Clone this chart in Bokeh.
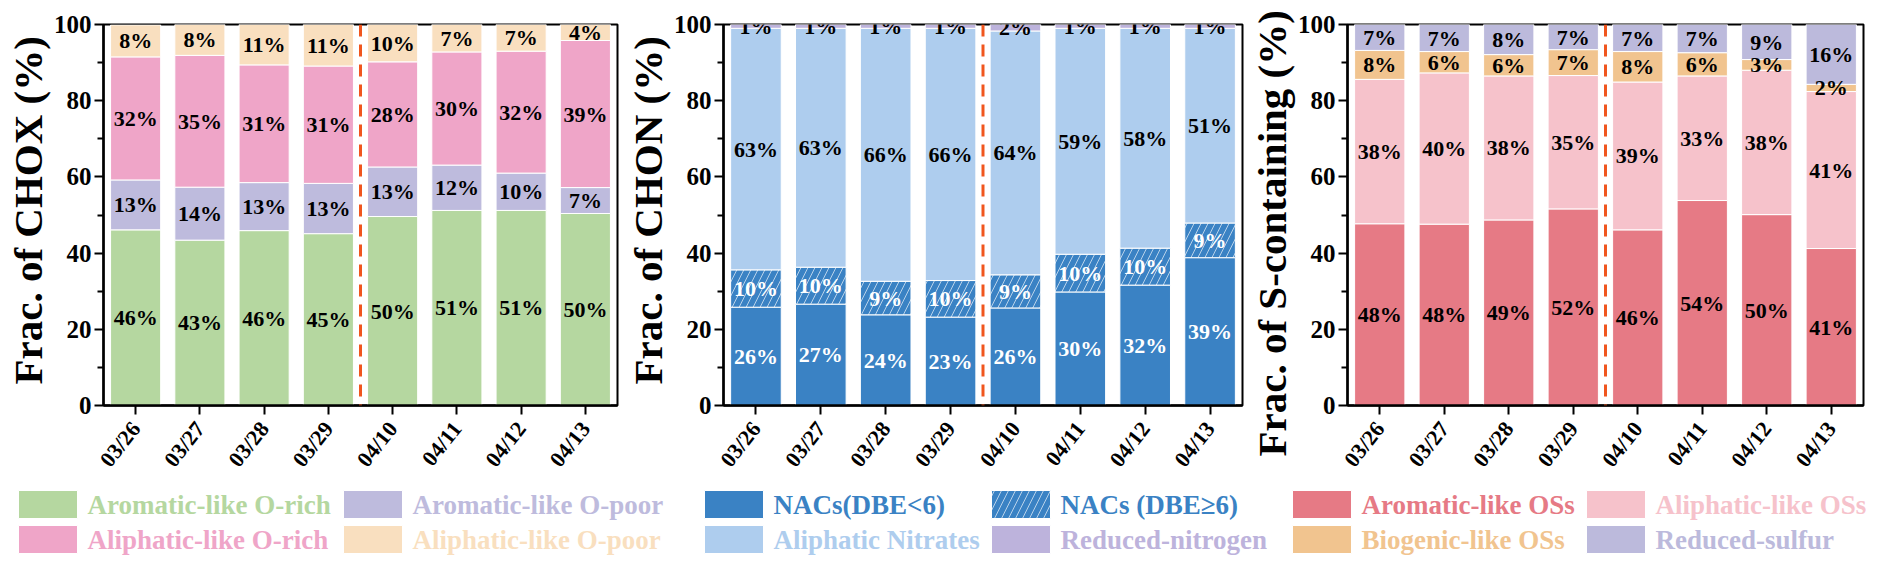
import numpy as np
from bokeh.plotting import figure
from bokeh.layouts import row, column
from bokeh.models import (ColumnDataSource, FactorRange, Range1d, Span, FixedTicker, Title)
from bokeh.core.properties import value
from bokeh.embed import file_html
from bokeh.resources import INLINE

dates = ["03/26", "03/27", "03/28", "03/29", "04/10", "04/11", "04/12", "04/13"]
split_date = "04/10"

# CHOX (%)
chox_names = ["Aromatic-like O-rich", "Aromatic-like O-poor",
              "Aliphatic-like O-rich", "Aliphatic-like O-poor"]
chox_colors = ["#b5d7a0", "#bebbdd", "#efa5c8", "#f9dfbf"]
aro_orich = [46.1, 43.4, 45.9, 45.1, 49.6, 51.2, 51.2, 50.4]
aro_opoor = [13.1, 13.9, 12.6, 13.2, 13.0, 11.9, 9.8, 6.8]
ali_orich = [32.3, 34.6, 30.9, 30.8, 27.6, 29.7, 32.0, 38.6]
ali_opoor = [8.4, 8.1, 10.6, 10.9, 9.8, 7.2, 7.0, 4.2]

# CHON (%)
chon_names = ["NACs(DBE<6)", "NACs (DBE\u22656)", "Aliphatic Nitrates", "Reduced-nitrogen"]
chon_colors = ["#3a82c4", "#3a82c4", "#aecdee", "#bdb3dc"]
nacs_lt6 = [25.8, 26.6, 23.8, 23.2, 25.6, 29.8, 31.6, 38.8]
nacs_ge6 = [9.8, 9.7, 8.8, 9.6, 8.7, 9.9, 9.7, 9.1]
ali_nitrates = [63.4, 62.7, 66.4, 66.2, 64.0, 59.3, 57.7, 51.1]
reduced_n = [1.0, 1.0, 1.0, 1.0, 1.7, 1.0, 1.0, 1.0]

# S-containing (%)
s_names = ["Aromatic-like OSs", "Aliphatic-like OSs", "Biogenic-like OSs", "Reduced-sulfur"]
s_colors = ["#e67a85", "#f6c2cb", "#f1c48f", "#bcbadc"]
aro_os = [47.7, 47.6, 48.7, 51.6, 46.1, 53.8, 50.1, 41.2]
ali_os = [37.9, 39.7, 37.8, 35.0, 38.8, 32.7, 37.9, 41.2]
bio_os = [7.6, 5.6, 5.6, 6.8, 8.0, 6.1, 2.8, 1.9]
red_s = [6.8, 7.1, 7.9, 6.6, 7.1, 7.4, 9.2, 15.7]

chox_hatch = [" ", " ", " ", " "]
chon_hatch = [" ", "/", " ", " "]
s_hatch = [" ", " ", " ", " "]

FONT = "Liberation Serif"
MAIN_H = 482
LEG_H = 86
HATCH = dict(hatch_color="white", hatch_alpha=0.8, hatch_scale=14, hatch_weight=0.8)


def make_panel(ylabel, colors, series, label_colors, hatches, width, left, right,
               title_offset):
    keys = ["s%d" % i for i in range(len(series))]
    data = {"date": dates}
    data.update(dict(zip(keys, series)))
    src = ColumnDataSource(data)

    p = figure(x_range=FactorRange(*dates), y_range=Range1d(0, 100),
               width=width, height=MAIN_H, output_backend="svg",
               toolbar_location=None, min_border_left=left,
               min_border_right=right, min_border_top=24,
               min_border_bottom=MAIN_H - 24 - 381,
               outline_line_color="black", outline_line_width=2)
    p.vbar_stack(keys, x="date", width=0.78, source=src, fill_color=colors,
                 line_color="white", line_width=1, hatch_pattern=hatches, **HATCH)

    arr = np.array(series)
    bottoms = np.vstack([np.zeros(len(dates)), np.cumsum(arr, axis=0)[:-1]])
    mids = bottoms + arr / 2
    lx, ly, lt, lc = [], [], [], []
    for i in range(len(series)):
        for j, d in enumerate(dates):
            lx.append(d)
            ly.append(mids[i, j])
            lt.append("%d%%" % int(round(float(arr[i, j]))))
            lc.append(label_colors[i])
    p.text(x="x", y="y", text="t", text_color="c",
           source=ColumnDataSource(dict(x=lx, y=ly, t=lt, c=lc)),
           text_align="center", text_baseline="middle",
           text_font=value(FONT), text_font_style="bold", text_font_size="22px")

    p.add_layout(Span(location=dates.index(split_date), dimension="height",
                      line_color="#f0561e", line_width=3, line_dash="12 8"))

    # y title sits in the left panel, shifted along the axis like the original
    p.add_layout(Title(text=ylabel, align="left", offset=title_offset, standoff=0,
                       text_font=FONT, text_font_style="bold",
                       text_font_size="41px", text_color="black"), "left")

    p.grid.visible = False
    p.yaxis.ticker = FixedTicker(ticks=[0, 20, 40, 60, 80, 100],
                                 minor_ticks=[10, 30, 50, 70, 90])
    p.yaxis.major_label_standoff = 3
    p.yaxis.major_label_text_font_size = "25px"
    p.yaxis.minor_tick_out = 6
    p.yaxis.minor_tick_in = 0
    p.yaxis.minor_tick_line_width = 2
    p.xaxis.major_label_orientation = 0.9
    p.xaxis.major_label_text_font_size = "22px"
    p.xaxis.major_label_standoff = 10
    for ax in (p.xaxis, p.yaxis):
        ax.major_label_text_font = FONT
        ax.major_label_text_font_style = "bold"
        ax.major_label_text_color = "black"
        ax.axis_line_width = 2.5
        ax.axis_line_color = "black"
        ax.major_tick_out = 9
        ax.major_tick_in = 0
        ax.major_tick_line_width = 2
    return p


p1 = make_panel("Frac. of CHOX (%)", chox_colors,
                [aro_orich, aro_opoor, ali_orich, ali_opoor],
                ["black"] * 4, chox_hatch, 622, 103, 5, 21)
p2 = make_panel("Frac. of CHON (%)", chon_colors,
                [nacs_lt6, nacs_ge6, ali_nitrates, reduced_n],
                ["white", "white", "black", "black"], chon_hatch, 624, 101, 4, 21)
p3 = make_panel("Frac. of S-containing (%)", s_colors,
                [aro_os, ali_os, bio_os, red_s],
                ["black"] * 4, s_hatch, 630, 100, 13, -51)

# legend strip under the three panels (2 x 2 keys per panel, text in series colour)
total_w = 622 + 624 + 630
leg_names = chox_names + chon_names + s_names
leg_colors = chox_colors + chon_colors + s_colors
leg_hatch = chox_hatch + chon_hatch + s_hatch
col_left = [18, 343, 704, 991, 1292, 1586]   # swatch left edge of each key column
row_mid = [64, 29]                           # key row centres
sw_w, sw_h = 59, 28
kx, ky = [], []
for panel in range(3):
    for k in range(4):
        kx.append(col_left[2 * panel + k % 2])
        ky.append(row_mid[k // 2])
kx = np.array(kx, dtype=float)
leg_src = ColumnDataSource(dict(x=kx + sw_w / 2, tx=kx + sw_w + 10, y=ky,
                                name=leg_names, color=leg_colors, hatch=leg_hatch))

lf = figure(width=total_w, height=LEG_H, x_range=Range1d(0, total_w),
            y_range=Range1d(0, LEG_H), x_axis_type=None, y_axis_type=None,
            toolbar_location=None, output_backend="svg", min_border=0,
            outline_line_color=None)
lf.rect(x="x", y="y", width=sw_w, height=sw_h, source=leg_src, fill_color="color",
        line_color="white", line_width=1, hatch_pattern="hatch", **HATCH)
lf.text(x="tx", y="y", text="name", text_color="color", source=leg_src,
        text_align="left", text_baseline="middle", text_font=value(FONT),
        text_font_style="bold", text_font_size="27px")

layout = column(row(p1, p2, p3), lf)
open("out.html", "w").write(file_html(layout, INLINE))
